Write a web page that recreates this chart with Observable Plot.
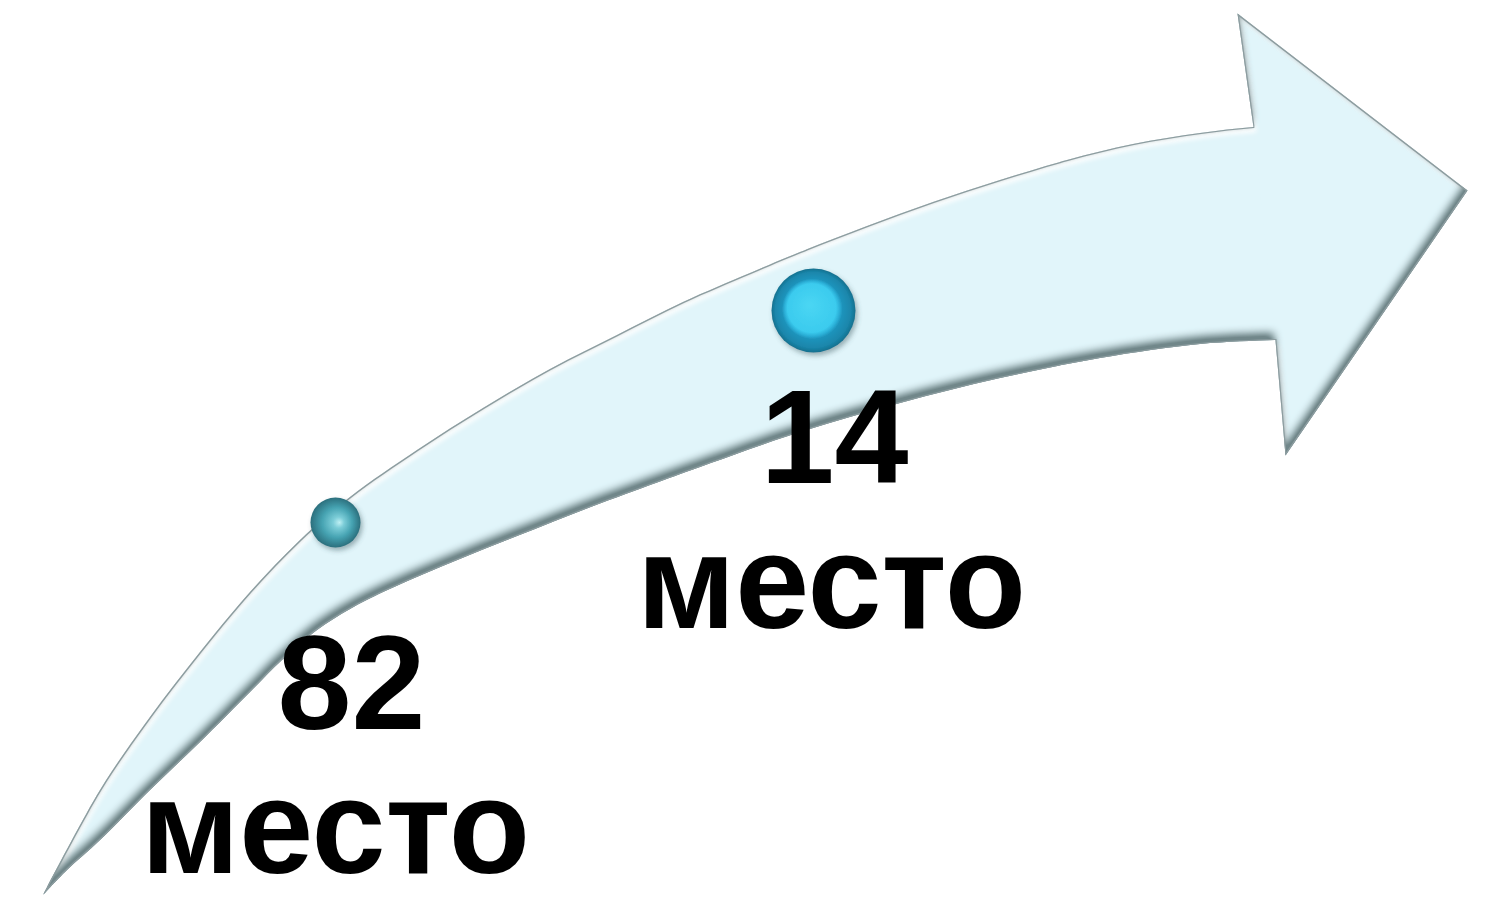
<!DOCTYPE html>
<html>
<head>
<meta charset="utf-8">
<script src="https://cdn.jsdelivr.net/npm/d3@7"></script>
<script src="https://cdn.jsdelivr.net/npm/@observablehq/plot@0.6"></script>
<style>
  html, body { margin: 0; padding: 0; background: #ffffff; }
  #chart svg { display: block; }
</style>
</head>
<body>
<div id="chart"></div>
<script>
// Stages shown on the arrow (rank achieved)
const ranks = ["82", "14"];
const unitLabel = "место";
const stageX = [335, 813];
const stageY = [522, 310];
const rankTextX = [351, 834];
const rankBaseline = [728, 482];
const unitTextX = [335, 831];
const unitBaseline = [872, 627];

// Arrow outline (upper and lower edges of the curved body, tail -> head; last pair reaches inside the head)
const bodyTopX = [43, 100, 150, 200, 250, 300, 350, 417, 483, 550, 617, 683, 750, 800, 867, 933, 1000, 1067, 1133, 1200, 1253, 1300];
const bodyTopY = [895, 790, 717, 652, 592, 540, 497, 450, 408, 369, 335, 302, 273, 252, 226, 202, 180, 160, 144, 133, 127, 124];
const bodyBotX = [43, 67, 100, 150, 200, 250, 283, 317, 350, 383, 450, 517, 583, 650, 700, 800, 900, 1000, 1100, 1200, 1275, 1310];
const bodyBotY = [895, 870, 840, 790, 742, 692, 659, 630, 609, 592, 563, 536, 510, 485, 467, 432, 403, 378, 358, 344, 340, 339];
// Arrow head polygon
const headX = [1253, 1237, 1467, 1285, 1275, 1253];
const headY = [127, 13, 190, 455, 340, 127];

const body = bodyTopX.map((x, i) => ({x1: x, y1: bodyTopY[i], x2: bodyBotX[i], y2: bodyBotY[i]}));
const head = headX.map((x, i) => ({x, y: headY[i]}));
const stages = ranks.map((rank, i) => ({rank, x: stageX[i], y: stageY[i]}));
const rankLabels = ranks.map((rank, i) => ({text: rank, x: rankTextX[i], y: rankBaseline[i]}));
const unitLabels = ranks.map((rank, i) => ({text: unitLabel, x: unitTextX[i], y: unitBaseline[i]}));

const W = 1506, H = 903;
const font = "'Liberation Sans', Arial, Helvetica, sans-serif";

const svg = Plot.plot({
  width: W,
  height: H,
  margin: 0,
  x: {axis: null, domain: [0, W], range: [0, W]},
  y: {axis: null, domain: [0, H], range: [0, H]},
  style: {background: "#ffffff", overflow: "visible"},
  marks: [
    Plot.area(body, {x1: "x1", y1: "y1", x2: "x2", y2: "y2", curve: "catmull-rom", fill: "#e1f5fa"}),
    Plot.line(head, {x: "x", y: "y", curve: "linear", fill: "#e1f5fa", stroke: "none"}),
    Plot.dot([stages[0]], {x: "x", y: "y", r: 25, fill: "url(#dotSmall)", stroke: "none"}),
    Plot.dot([stages[1]], {x: "x", y: "y", r: 42, fill: "url(#dotBig)", stroke: "none"}),
    Plot.text(rankLabels, {x: "x", y: "y", text: "text", fontSize: 133, fontWeight: "bold", fontFamily: font, fill: "#000000", textAnchor: "middle", lineAnchor: "bottom"}),
    Plot.text(unitLabels, {x: "x", y: "y", text: "text", fontSize: 133, fontWeight: "bold", fontFamily: font, fill: "#000000", textAnchor: "middle", lineAnchor: "bottom"})
  ]
});

// Decorative definitions: bevel filter and dot gradients
const NS = "http://www.w3.org/2000/svg";
const defs = document.createElementNS(NS, "defs");
defs.innerHTML = `
  <filter id="bevel" filterUnits="userSpaceOnUse" x="0" y="0" width="${W}" height="${H}" color-interpolation-filters="sRGB">
    <feComponentTransfer in="SourceAlpha" result="inv"><feFuncA type="table" tableValues="1 0"/></feComponentTransfer>
    <feGaussianBlur in="inv" stdDeviation="4.5" result="invBlur"/>
    <feOffset in="invBlur" dx="-2" dy="-7" result="shOff0"/>
    <feComponentTransfer in="shOff0" result="shOff"><feFuncA type="linear" slope="1.3" intercept="0"/></feComponentTransfer>
    <feFlood flood-color="#71878a" flood-opacity="1" result="shCol"/>
    <feComposite in="shCol" in2="shOff" operator="in" result="sh1"/>
    <feComposite in="sh1" in2="SourceAlpha" operator="in" result="shadow"/>
    <feGaussianBlur in="inv" stdDeviation="2.5" result="invBlur2"/>
    <feOffset in="invBlur2" dx="3" dy="5" result="hlOff"/>
    <feFlood flood-color="#ffffff" flood-opacity="1" result="hlCol"/>
    <feComposite in="hlCol" in2="hlOff" operator="in" result="hl1"/>
    <feComposite in="hl1" in2="SourceAlpha" operator="in" result="hl"/>
    <feGaussianBlur in="inv" stdDeviation="2.2" result="rimBlur"/>
    <feFlood flood-color="#90a3a6" flood-opacity="0.75" result="rimCol"/>
    <feComposite in="rimCol" in2="rimBlur" operator="in" result="rim1"/>
    <feComposite in="rim1" in2="SourceAlpha" operator="in" result="rim"/>
    <feMorphology in="SourceAlpha" operator="erode" radius="1" result="er"/>
    <feComposite in="SourceAlpha" in2="er" operator="out" result="edge"/>
    <feFlood flood-color="#8c9c9f" result="edgeCol"/>
    <feComposite in="edgeCol" in2="edge" operator="in" result="edgeC"/>
    <feMerge><feMergeNode in="SourceGraphic"/><feMergeNode in="hl"/><feMergeNode in="rim"/><feMergeNode in="shadow"/><feMergeNode in="edgeC"/></feMerge>
  </filter>
  <filter id="dotShadow" x="-50%" y="-50%" width="200%" height="200%">
    <feGaussianBlur in="SourceAlpha" stdDeviation="2.5"/>
    <feOffset dx="1.5" dy="3" result="o"/>
    <feFlood flood-color="#3d5a60" flood-opacity="0.45"/>
    <feComposite in2="o" operator="in" result="s"/>
    <feMerge><feMergeNode in="s"/><feMergeNode in="SourceGraphic"/></feMerge>
  </filter>
  <radialGradient id="dotSmall" cx="0.5" cy="0.5" r="0.5" fx="0.58" fy="0.5">
    <stop offset="0" stop-color="#bff0f4"/>
    <stop offset="0.22" stop-color="#7ccdd8"/>
    <stop offset="0.6" stop-color="#46a3b2"/>
    <stop offset="1" stop-color="#2b6f7d"/>
  </radialGradient>
  <radialGradient id="dotBig" cx="0.5" cy="0.5" r="0.5" fx="0.45" fy="0.43">
    <stop offset="0" stop-color="#4ad6f3"/>
    <stop offset="0.58" stop-color="#3bcbee"/>
    <stop offset="0.66" stop-color="#2aaed6"/>
    <stop offset="0.72" stop-color="#1e93bb"/>
    <stop offset="0.9" stop-color="#1a86ab"/>
    <stop offset="1" stop-color="#14708e"/>
  </radialGradient>
`;
svg.insertBefore(defs, svg.firstChild);

// Group the arrow body and head so the bevel treats them as one shape
const areaG = svg.querySelector('g[aria-label="area"]');
const lineG = svg.querySelector('g[aria-label="line"]');
const arrowG = document.createElementNS(NS, "g");
arrowG.setAttribute("filter", "url(#bevel)");
areaG.parentNode.insertBefore(arrowG, areaG);
arrowG.appendChild(areaG);
arrowG.appendChild(lineG);
svg.querySelectorAll('g[aria-label="dot"]').forEach(g => g.setAttribute("filter", "url(#dotShadow)"));

document.getElementById("chart").appendChild(svg);
</script>
</body>
</html>
